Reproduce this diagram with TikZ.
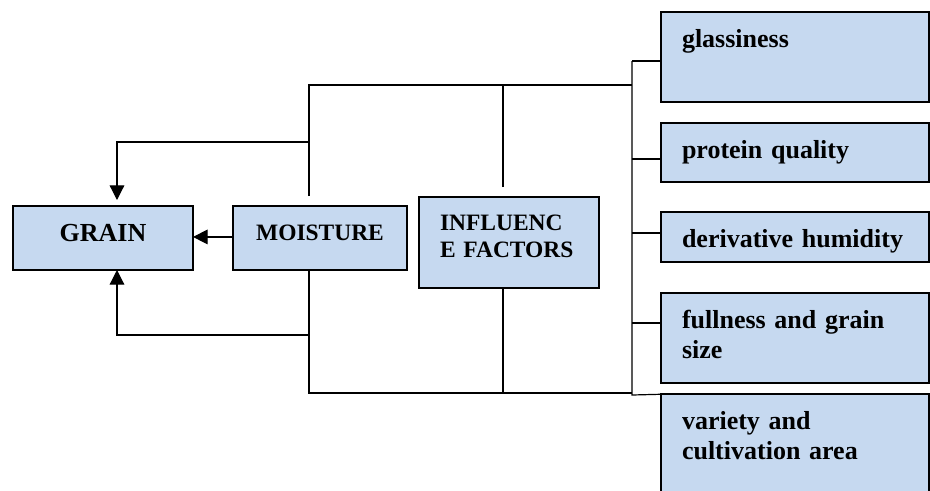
\documentclass[tikz,border=0pt]{standalone}
\usepackage{fontspec}
\setmainfont{Liberation Serif}
\usetikzlibrary{arrows.meta}
\definecolor{boxblue}{HTML}{C6D9F0}
\tikzset{
  box/.style={draw, fill=boxblue, line width=1.1pt, anchor=north west, outer sep=0pt, inner ysep=0pt},
  bigtext/.style={font=\fontsize{19.5pt}{22.5pt}\selectfont\bfseries},
  smalltext/.style={font=\fontsize{17.6pt}{20.25pt}\selectfont\bfseries},
  factor/.style={box, bigtext, align=left, inner xsep=15.75pt, text width=169.5pt, text height=26.25pt},
  arr/.style={-{Triangle[length=11pt,width=11pt]}}
}

\begin{document}
\begin{tikzpicture}[x=0.75pt, y=-0.75pt, line width=0.9pt]
    \useasboundingbox (0,0) rectangle (930,490);
    % Draw main boxes
    \node[box, bigtext, align=center, inner xsep=0pt, text width=135pt, text height=26.8pt, text depth=21.2pt] (grain) at (13,206) {GRAIN};
    \node[box, smalltext, align=center, inner xsep=0pt, text width=130.5pt, text height=25.5pt, text depth=22.5pt] (moisture) at (233,206) {MOISTURE};
    \node[box, smalltext, align=left, inner xsep=15.75pt, text width=103.5pt, text height=24.75pt, text depth=43.5pt] (factors) at (419,197) {INFLUENC\\E FACTORS};
    % Draw factor boxes
    \node[factor, text depth=41.25pt] (glass) at (661,12) {glassiness};
    \node[factor, text depth=18pt] (protein) at (661,123) {protein quality};
    \node[factor, text depth=11.25pt] (humid) at (661,212) {derivative humidity};
    \node[factor, text depth=41.25pt] (size) at (661,293) {fullness and grain\\size};
    \node[factor, text depth=52.5pt] (variety) at (661,394) {variety and\\cultivation area};
    % Junction points
    \coordinate (mtop) at (309,196);
    \coordinate (ftop) at (503,187);
    \coordinate (upper) at (632,85);
    \coordinate (lower) at (632,393);
    \coordinate (gtop) at (309,142);
    \coordinate (gbot) at (309,335);
    \coordinate (gin) at (117,206);
    \coordinate (gout) at (117,270);
    \coordinate (b1) at (632,61);
    \coordinate (b2) at (632,159);
    \coordinate (b3) at (632,233);
    \coordinate (b4) at (632,323);
    \coordinate (b5) at (632,395);
    % Draw connectors
    \draw[arr] (moisture.mid west) -- (moisture.mid west -| grain.east);
    \draw (mtop) |- (upper);
    \draw (ftop) -- (ftop |- upper);
    \draw[arr, shorten >=4.5pt] (gtop) -| (gin);
    \draw (moisture.south -| mtop) |- (lower);
    \draw (factors.south -| ftop) -- (ftop |- lower);
    \draw[arr] (gbot) -| (gout);
    % Draw bus to factors
    \draw (b1) -- (b5) -- ([xshift=7.5pt]variety.north west);
    \foreach \b/\n in {b1/glass, b2/protein, b3/humid, b4/size}
        \draw (\b) -- (\b -| \n.west);
\end{tikzpicture}
\end{document}
